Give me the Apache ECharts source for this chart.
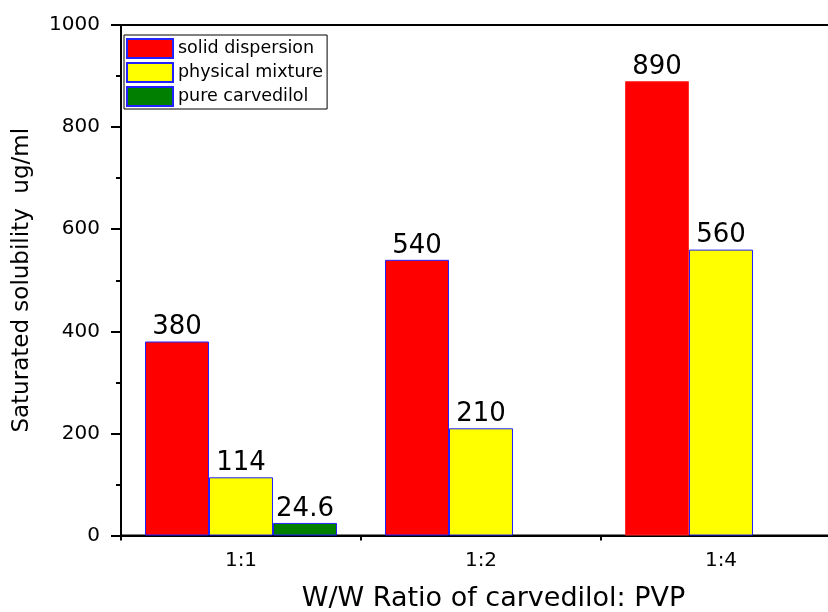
<!DOCTYPE html>
<html>
<head>
<meta charset="utf-8">
<script src="https://cdn.jsdelivr.net/npm/echarts@6/dist/echarts.min.js"></script>
<style>html,body{margin:0;padding:0;background:#fff}#c{width:828px;height:612px}</style>
</head>
<body>
<div id="c"></div>
<script>
var categories = ['1:1', '1:2', '1:4'];
var solidDispersion = [380, 540, 890];
var physicalMixture = [114, 210, 560];
var pureCarvedilol = [24.6, null, null];
var seriesNames = ['solid dispersion', 'physical mixture', 'pure carvedilol'];
var yTicks = {min: 0, max: 1000, interval: 200};
var xTitle = 'W/W Ratio of carvedilol: PVP';
var yTitle = 'Saturated solubility  ug/ml';

var FONT = 'DejaVu Sans';
var chart = echarts.init(document.getElementById('c'), null, {renderer: 'canvas'});

function mkSeries(name, data, color) {
  return {
    name: name,
    type: 'bar',
    xAxisIndex: 0,
    data: data.map(function (v) { return v === null ? '-' : v; }),
    barWidth: 64,
    barGap: '0%',
    itemStyle: {color: color, borderColor: '#2222ff', borderWidth: 1},
    label: {
      show: true, position: 'top', distance: 1, color: '#000',
      fontFamily: FONT, fontSize: 26
    }
  };
}

var s1 = mkSeries(seriesNames[0], solidDispersion, '#ff0000');
s1.data[2] = {value: solidDispersion[2], itemStyle: {borderColor: '#ff3030'}};

var option = {
  backgroundColor: '#fff',
  animation: false,
  grid: {left: 121, width: 720, top: 25, bottom: 76.5, show: true, borderColor: '#000', borderWidth: 2,
         containLabel: false, outerBoundsMode: 'none'},
  legend: {
    left: 124, top: 35, orient: 'vertical',
    itemWidth: 46, itemHeight: 19, itemGap: 3,
    padding: [3, 4, 2, 2],
    borderColor: '#000', borderWidth: 1,
    icon: 'rect',
    textStyle: {fontFamily: FONT, fontSize: 17.5, color: '#000'},
    data: seriesNames
  },
  xAxis: [{
    type: 'category', data: categories, position: 'bottom',
    axisLine: {lineStyle: {color: '#000', width: 2}},
    axisTick: {alignWithLabel: true, length: 8, lineStyle: {color: '#000', width: 2}},
    axisLabel: {fontFamily: FONT, fontSize: 20, color: '#000', margin: 15},
    name: xTitle, nameLocation: 'middle', nameGap: 50,
    nameTextStyle: {fontFamily: FONT, fontSize: 27, color: '#000', padding: [0, 0, 0, 25]}
  }, {
    type: 'category', data: categories, position: 'bottom', offset: 0,
    axisLine: {show: false, onZero: false},
    axisTick: {show: true, alignWithLabel: false, length: 5, lineStyle: {color: '#000', width: 2}},
    axisLabel: {show: false}
  }],
  yAxis: {
    type: 'value', min: yTicks.min, max: yTicks.max, interval: yTicks.interval,
    axisLine: {show: true, lineStyle: {color: '#000', width: 2}},
    axisTick: {show: true, length: 10, lineStyle: {color: '#000', width: 2}},
    minorTick: {show: true, splitNumber: 2, length: 5, lineStyle: {color: '#000', width: 2}},
    splitLine: {show: false},
    axisLabel: {fontFamily: FONT, fontSize: 20, color: '#000', margin: 21, formatter: function (v) { return String(v); }},
    name: yTitle, nameLocation: 'middle', nameGap: 87,
    nameTextStyle: {fontFamily: FONT, fontSize: 23, color: '#000'}
  },
  series: [
    s1,
    mkSeries(seriesNames[1], physicalMixture, '#ffff00'),
    mkSeries(seriesNames[2], pureCarvedilol, '#007f00')
  ]
};
chart.setOption(option);
</script>
</body>
</html>
